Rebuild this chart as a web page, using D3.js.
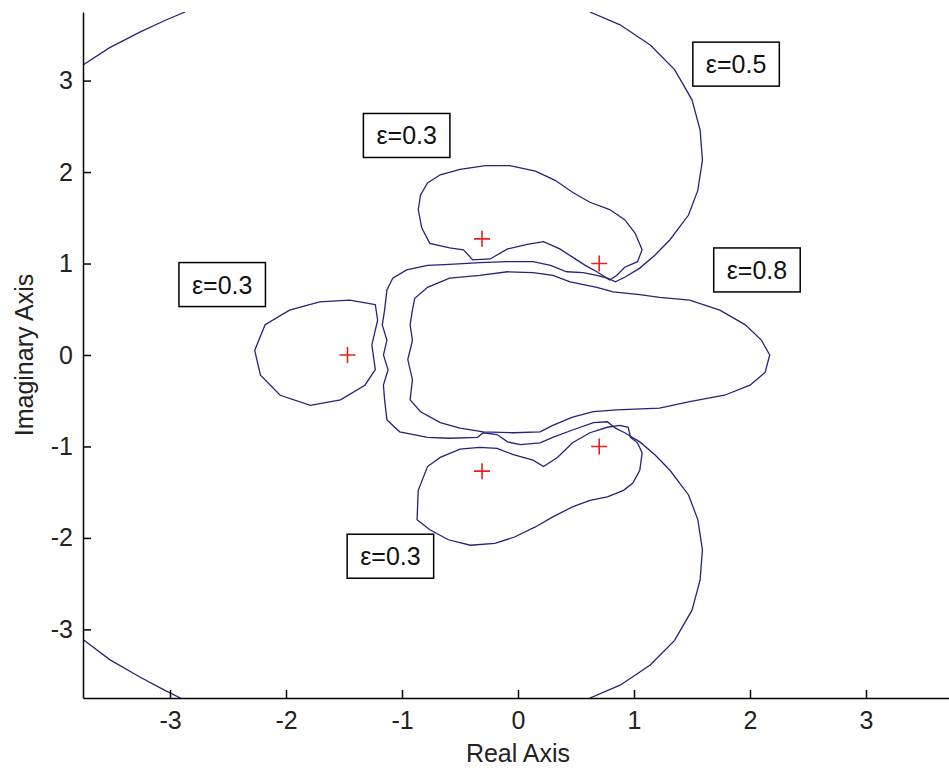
<!DOCTYPE html>
<html>
<head>
<meta charset="utf-8">
<script src="https://cdn.jsdelivr.net/npm/d3@7"></script>
<style>
  body { margin: 0; background: #fff; }
</style>
</head>
<body>
<div class="chart"></div>
<script>
const svgWidth = 949,
  svgHeight = 769,
  plotLeft = 83,
  plotRight = 953,
  plotTop = 12,
  plotBottom = 698,
  lineColor = '#23237a',
  plusColor = '#e52222',
  fontFamily = '"Liberation Sans", Arial, sans-serif',
  fontSize = '25px';

// tick values
const xTicks = [-3, -2, -1, 0, 1, 2, 3];
const yTicks = [-3, -2, -1, 0, 1, 2, 3];

// eigenvalues (red crosses), [re, im]
const eigenvalues = [[-1.47, 0], [-0.31, 1.27], [-0.31, -1.27], [0.70, 1.0], [0.70, -1.0]];

// eps = 0.3 contours (closed)
const eps03Left = [[-1.23, 0.55], [-1.45, 0.60], [-1.71, 0.58], [-1.97, 0.49], [-2.18, 0.33], [-2.27, 0.05],
  [-2.22, -0.22], [-2.05, -0.44], [-1.79, -0.55], [-1.53, -0.49], [-1.32, -0.33], [-1.23, -0.16],
  [-1.26, 0.11], [-1.21, 0.38]];

const eps03Top = [[-0.86, 1.59], [-0.84, 1.75], [-0.78, 1.88], [-0.67, 1.97], [-0.50, 2.03], [-0.28, 2.07],
  [-0.07, 2.07], [0.15, 2.01], [0.32, 1.91], [0.47, 1.78], [0.62, 1.67], [0.79, 1.59], [0.92, 1.48],
  [1.01, 1.33], [1.07, 1.15], [1.03, 1.02], [0.92, 0.96], [0.85, 0.87], [0.79, 0.82], [0.68, 0.91],
  [0.58, 0.98], [0.47, 1.07], [0.36, 1.16], [0.22, 1.24], [0.08, 1.21], [-0.09, 1.16], [-0.24, 1.05],
  [-0.39, 1.04], [-0.47, 1.15], [-0.59, 1.17], [-0.76, 1.22], [-0.83, 1.39]];

const eps03Bottom = [[-0.87, -1.80], [-0.86, -1.48], [-0.78, -1.22], [-0.67, -1.12], [-0.50, -1.03],
  [-0.33, -1.01], [-0.18, -1.02], [-0.04, -1.09], [0.13, -1.15], [0.22, -1.22], [0.34, -1.12],
  [0.47, -0.96], [0.62, -0.85], [0.77, -0.79], [0.88, -0.77], [0.95, -0.79], [0.97, -0.90],
  [1.03, -0.96], [1.07, -1.07], [1.05, -1.26], [0.99, -1.40], [0.91, -1.48], [0.77, -1.55],
  [0.62, -1.59], [0.47, -1.66], [0.30, -1.77], [0.15, -1.88], [-0.03, -1.99], [-0.20, -2.06],
  [-0.41, -2.08], [-0.60, -2.02], [-0.76, -1.91]];

// eps = 0.5 contour (open, leaves the axes)
const eps05Main = [[0.62, 3.75], [0.88, 3.61], [1.14, 3.39], [1.35, 3.12], [1.50, 2.79], [1.57, 2.46],
  [1.59, 2.13], [1.55, 1.80], [1.47, 1.53], [1.31, 1.26], [1.18, 1.09], [1.05, 0.95], [0.92, 0.85],
  [0.84, 0.80], [0.77, 0.84], [0.68, 0.87], [0.56, 0.90], [0.42, 0.91], [0.28, 0.98], [0.13, 1.02],
  [-0.09, 1.02], [-0.33, 1.01], [-0.59, 0.99], [-0.78, 0.98], [-0.96, 0.93], [-1.08, 0.84],
  [-1.13, 0.71], [-1.15, 0.49], [-1.17, 0.33], [-1.13, 0.16], [-1.16, 0], [-1.12, -0.16],
  [-1.16, -0.33], [-1.15, -0.49], [-1.13, -0.71], [-1.02, -0.84], [-0.78, -0.90], [-0.59, -0.91],
  [-0.35, -0.90], [-0.30, -0.85], [-0.18, -0.87], [-0.09, -0.95], [0.02, -0.98], [0.19, -0.96],
  [0.30, -0.90], [0.47, -0.82], [0.65, -0.74], [0.77, -0.73], [0.84, -0.80], [0.92, -0.85],
  [1.05, -0.95], [1.18, -1.09], [1.31, -1.26], [1.47, -1.53], [1.55, -1.80], [1.59, -2.13],
  [1.57, -2.46], [1.50, -2.79], [1.35, -3.12], [1.14, -3.39], [0.88, -3.61], [0.62, -3.75]];

const eps05TopLeft = [[-3.75, 3.17], [-3.52, 3.36], [-3.26, 3.53], [-3.04, 3.66], [-2.87, 3.75]];
const eps05BottomLeft = [[-3.75, -3.11], [-3.52, -3.33], [-3.26, -3.52], [-3.04, -3.67], [-2.91, -3.75]];

// eps = 0.8 contour (closed)
const eps08 = [[-0.91, 0.49], [-0.89, 0.62], [-0.78, 0.74], [-0.59, 0.84], [-0.33, 0.87], [-0.09, 0.91],
  [0.13, 0.90], [0.30, 0.87], [0.45, 0.80], [0.68, 0.74], [0.82, 0.69], [1.05, 0.66], [1.22, 0.63],
  [1.48, 0.60], [1.74, 0.49], [1.96, 0.33], [2.10, 0.16], [2.17, 0], [2.13, -0.19], [2.00, -0.33],
  [1.78, -0.44], [1.48, -0.51], [1.22, -0.58], [0.85, -0.60], [0.65, -0.62], [0.47, -0.68],
  [0.30, -0.77], [0.19, -0.84], [-0.04, -0.85], [-0.30, -0.84], [-0.50, -0.80], [-0.67, -0.74],
  [-0.84, -0.62], [-0.93, -0.49], [-0.91, -0.27], [-0.95, -0.05], [-0.91, 0.16], [-0.93, 0.33]];

// boxed labels, centre in data units
const labelText = ['ε=0.5', 'ε=0.3', 'ε=0.8', 'ε=0.3', 'ε=0.3'];
const labelX = [1.88, -0.96, 2.06, -1.10, -2.55];
const labelY = [3.18, 2.40, 0.93, -2.20, 0.77];

const closedLines = [eps03Left, eps03Top, eps03Bottom, eps08];
const openLines = [eps05Main, eps05TopLeft, eps05BottomLeft];

const svg = d3.select('.chart')
  .append('svg')
  .attr('width', svgWidth)
  .attr('height', svgHeight)
  .style('font-family', fontFamily);

const xScale = d3.scaleLinear()
  .domain([-3.75, 3.75])
  .range([plotLeft, plotRight]);

const yScale = d3.scaleLinear()
  .domain([-3.75, 3.75])
  .range([plotBottom, plotTop]);

svg.append('clipPath')
  .attr('id', 'plot-clip')
  .append('rect')
  .attr('x', plotLeft)
  .attr('y', plotTop)
  .attr('width', plotRight - plotLeft)
  .attr('height', plotBottom - plotTop);

const plot = svg.append('g').attr('clip-path', 'url(#plot-clip)');

const contourLine = d3.line()
  .x(d => xScale(d[0]))
  .y(d => yScale(d[1]));

plot.selectAll('.closed-line')
  .data(closedLines)
  .enter()
  .append('path')
  .attr('d', d => contourLine(d) + 'Z')
  .attr('stroke', lineColor)
  .attr('stroke-width', 1.3)
  .attr('fill', 'none');

plot.selectAll('.open-line')
  .data(openLines)
  .enter()
  .append('path')
  .attr('d', d => contourLine(d))
  .attr('stroke', lineColor)
  .attr('stroke-width', 1.3)
  .attr('fill', 'none');

// red + markers
const plusSize = 8;
plot.selectAll('.plus')
  .data(eigenvalues)
  .enter()
  .append('path')
  .attr('d', d => {
    const cx = xScale(d[0]), cy = yScale(d[1]);
    return `M${cx - plusSize},${cy}H${cx + plusSize}M${cx},${cy - plusSize}V${cy + plusSize}`;
  })
  .attr('stroke', plusColor)
  .attr('stroke-width', 1.6);

// boxed labels
labelText.forEach((t, i) => {
  const g = svg.append('g')
    .attr('transform', `translate(${xScale(labelX[i])}, ${yScale(labelY[i])})`);
  const txt = g.append('text')
    .attr('text-anchor', 'middle')
    .attr('dy', '0.36em')
    .style('font-size', fontSize)
    .attr('fill', '#111')
    .text(t);
  const bb = txt.node().getBBox();
  g.insert('rect', 'text')
    .attr('x', bb.x - 13)
    .attr('y', -22)
    .attr('width', bb.width + 26)
    .attr('height', 44)
    .attr('fill', '#fff')
    .attr('stroke', '#000')
    .attr('stroke-width', 1.5);
});

const xAxis = d3.axisBottom(xScale)
  .tickValues(xTicks)
  .tickSize(-8)
  .tickSizeOuter(0)
  .tickPadding(13)
  .tickFormat(d => String(d));

const yAxis = d3.axisLeft(yScale)
  .tickValues(yTicks)
  .tickSize(-8)
  .tickSizeOuter(0)
  .tickPadding(10)
  .tickFormat(d => String(d));

const gx = svg.append('g')
  .attr('transform', `translate(0, ${plotBottom})`)
  .call(xAxis);

const gy = svg.append('g')
  .attr('transform', `translate(${plotLeft}, 0)`)
  .call(yAxis);

[gx, gy].forEach(g => {
  g.select('.domain').attr('stroke', '#000').attr('stroke-width', 1.5);
  g.selectAll('.tick line').attr('stroke', '#000').attr('stroke-width', 1.5);
  g.selectAll('.tick text')
    .style('font-family', fontFamily)
    .style('font-size', fontSize)
    .attr('fill', '#222');
});

svg.append('text')
  .attr('x', xScale(0))
  .attr('y', 762)
  .attr('text-anchor', 'middle')
  .style('font-size', fontSize)
  .attr('fill', '#222')
  .text('Real  Axis');

svg.append('text')
  .attr('transform', `translate(33, ${yScale(0)}) rotate(-90)`)
  .attr('text-anchor', 'middle')
  .style('font-size', fontSize)
  .attr('fill', '#222')
  .text('Imaginary  Axis');
</script>
</body>
</html>
